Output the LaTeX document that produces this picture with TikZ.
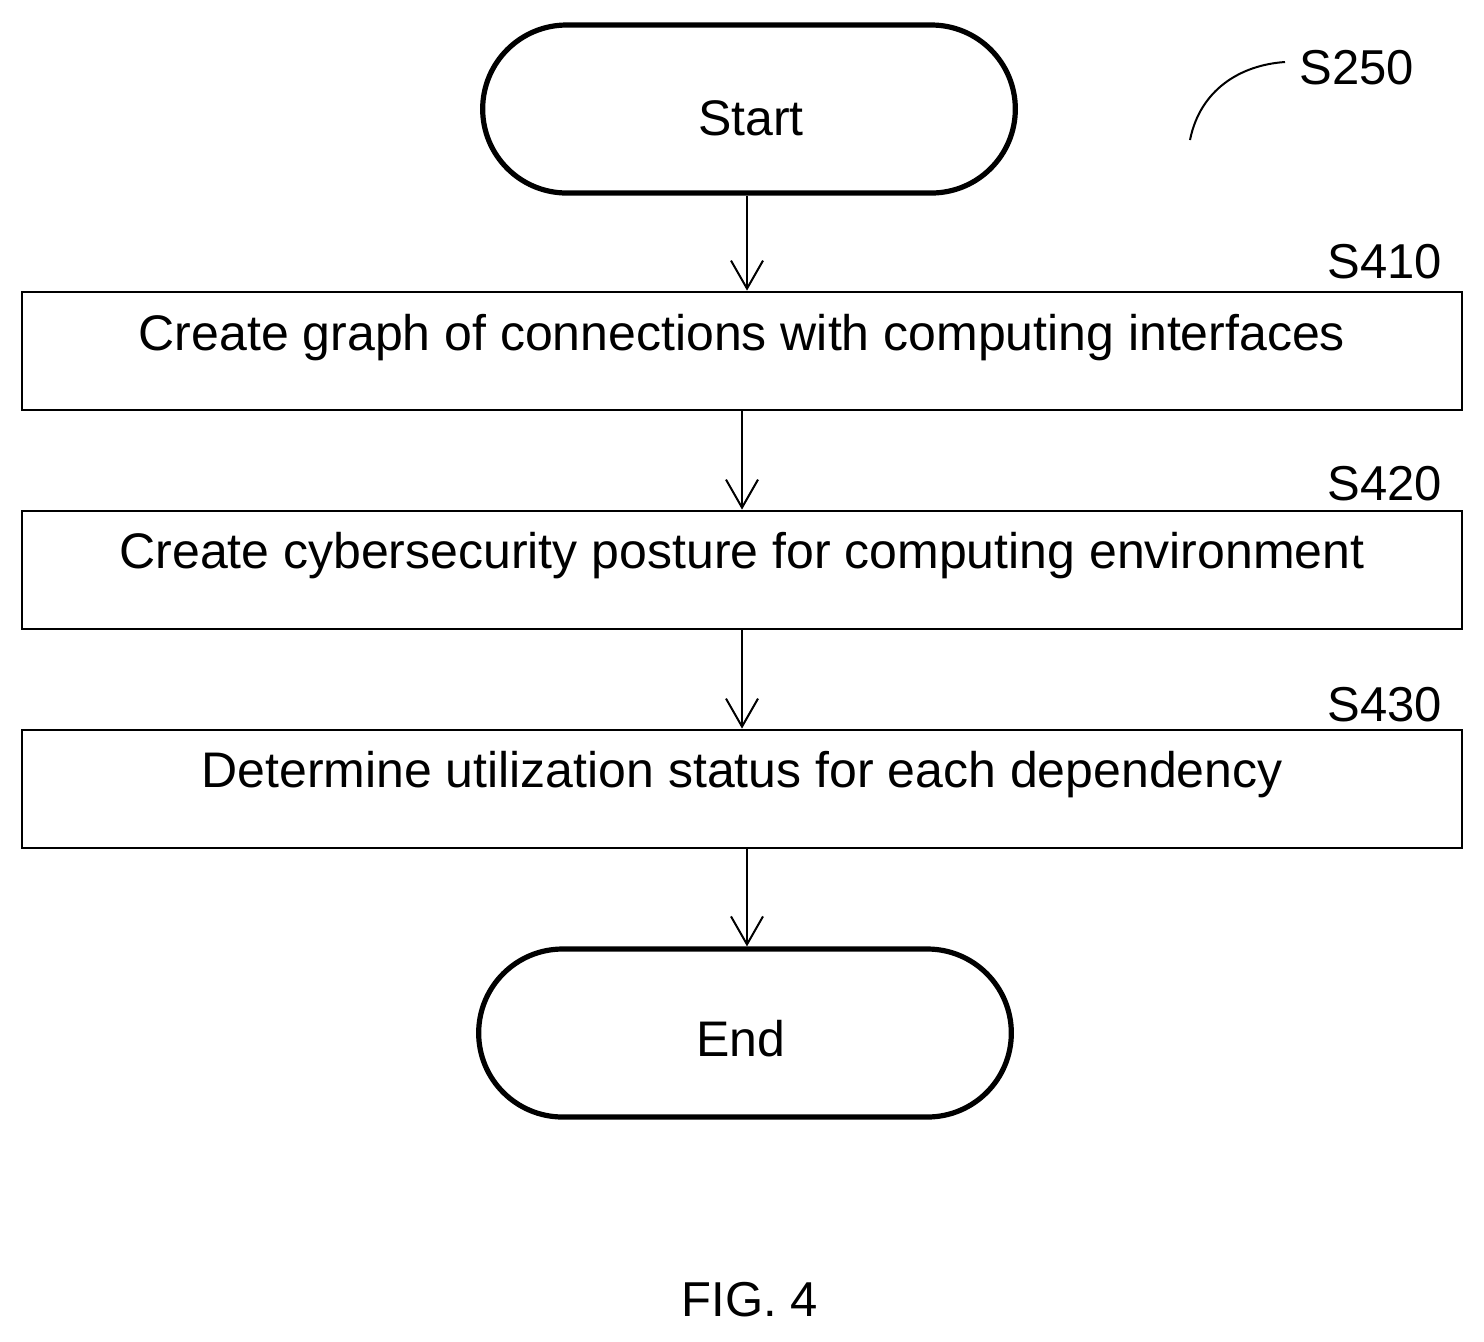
\documentclass[tikz,border=0pt]{standalone}
\usepackage{fontspec}
\setmainfont{Liberation Sans}
\usetikzlibrary{shapes.misc,arrows.meta}
\begin{document}
\begin{tikzpicture}[x=0.5pt,y=-0.5pt,
 term/.style={rounded rectangle,draw,line width=2.6pt,minimum width=273pt,minimum height=84pt},
 stepbox/.style={rectangle,draw,line width=1.4pt,minimum width=720pt,minimum height=59pt},
 lab/.style={font=\fontsize{24.5}{28}\selectfont},
 txt/.style={font=\fontsize{25}{29}\selectfont},
 arr/.style={-{Straight Barb[length=14pt,width=16pt,line width=1pt]},line width=1pt}]
\useasboundingbox (0,0) rectangle (1484,1341);
\node[term] (start) at (749,109) {};
\node[txt] (tstart) at (751,118) {Start};
\node[stepbox] (s410) at (742,351) {};
\node[txt] (t410) at (742,338) {Create graph of connections with computing interfaces};
\node[stepbox] (s420) at (742,570) {};
\node[txt] (t420) at (742,556) {Create cybersecurity posture for computing environment};
\node[stepbox] (s430) at (742,789) {};
\node[txt] (t430) at (742,775) {Determine utilization status for each dependency};
\node[term] (end) at (745,1033) {};
\node[txt] (tend) at (741,1039) {End};
\draw[arr] (start.south -| 747,0) -- (s410.north -| 747,0);
\draw[arr] (s410.south) -- (s420.north);
\draw[arr] (s420.south) -- (s430.north);
\draw[arr] (s430.south -| 747,0) -- (end.north -| 747,0);
\node[lab] (l410) at (1385,262) {S410};
\node[lab] (l420) at (1385,484) {S420};
\node[lab] (l430) at (1385,705) {S430};
\node[lab] (l250) at (1357,68) {S250};
\coordinate (c1) at (1190,140);
\coordinate (c2) at (1285,62);
\draw[line width=1pt] (c1) .. controls (1200,90) and (1240,65) .. (c2);
\node[lab] (fig) at (750,1300) {FIG. 4};
\end{tikzpicture}
\end{document}
